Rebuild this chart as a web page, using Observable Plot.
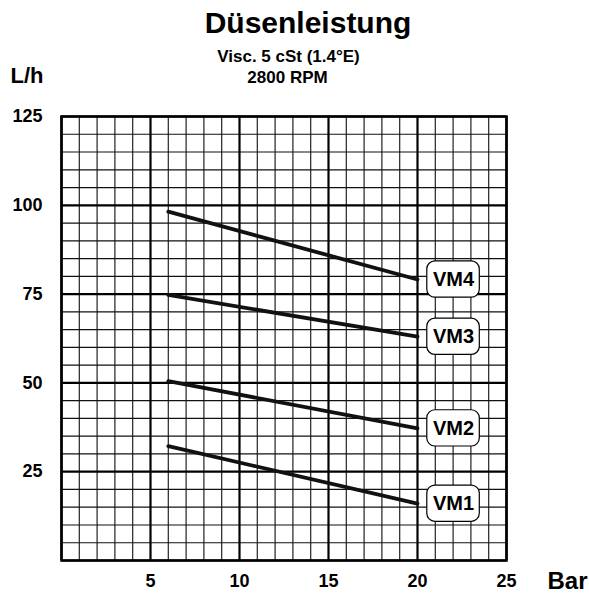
<!DOCTYPE html>
<html>
<head>
<meta charset="utf-8">
<script src="https://cdn.jsdelivr.net/npm/d3@7"></script>
<script src="https://cdn.jsdelivr.net/npm/@observablehq/plot@0.6"></script>
<style>
  html, body { margin: 0; padding: 0; background: #fff; }
  #chart svg { display: block; font-family: "Liberation Sans", Arial, sans-serif; }
</style>
</head>
<body>
<div id="chart"></div>
<script>
// ---- data ----
const series = ["VM1", "VM2", "VM3", "VM4"];
const pressureStart = 6;   // Bar
const pressureEnd = 20;    // Bar
const flowStart = [32.2, 50.5, 74.8, 98.2]; // L/h at 6 bar
const flowEnd = [16.0, 37.2, 63.0, 79.1];   // L/h at 20 bar
const xTicks = [5, 10, 15, 20, 25];
const yTicks = [25, 50, 75, 100, 125];
const title = "Düsenleistung";
const subtitle1 = "Visc. 5 cSt (1.4°E)";
const subtitle2 = "2800 RPM";
const yLabel = "L/h";
const xLabel = "Bar";

// ---- derived tables ----
const lines = series.flatMap((s, i) => [
  {series: s, x: pressureStart, y: flowStart[i]},
  {series: s, x: pressureEnd, y: flowEnd[i]}
]);
const labels = series.map((s, i) => ({series: s, y: flowEnd[i]}));

const xMinor = d3.range(0, 26, 1).filter(v => v % 5 !== 0);
const xMajor = d3.range(0, 26, 5);
const yMinor = d3.range(0, 126, 5).filter(v => v % 25 !== 0);
const yMajor = d3.range(0, 126, 25);

const font = "Liberation Sans, Arial, sans-serif";
const txt = {fontWeight: "bold", fill: "#000", lineAnchor: "middle"};

const chart = Plot.plot({
  width: 589,
  height: 596,
  marginLeft: 61,
  marginRight: 83,
  marginTop: 116,
  marginBottom: 36,
  style: {fontFamily: font, background: "#fff", overflow: "visible"},
  x: {domain: [0, 25]},
  y: {domain: [0, 125]},
  marks: [
    Plot.ruleX(xMinor, {stroke: "#222", strokeWidth: 1.2}),
    Plot.ruleY(yMinor, {stroke: "#111", strokeWidth: 1.2}),
    Plot.ruleX(xMajor, {stroke: "#000", strokeWidth: 2.2}),
    Plot.ruleY(yMajor, {stroke: "#000", strokeWidth: 2.2}),
    Plot.frame({stroke: "#000", strokeWidth: 2.5}),
    Plot.axisX({ticks: xTicks, tickSize: 0, tickPadding: 14, fontSize: 18, fontWeight: "bold", label: null, fill: "#000"}),
    Plot.axisY({ticks: yTicks, tickSize: 0, tickPadding: 19, fontSize: 18, fontWeight: "bold", label: null, fill: "#000"}),
    Plot.line(lines, {x: "x", y: "y", z: "series", stroke: "#111", strokeWidth: 3.8}),
    Plot.rect(labels, {
      x1: () => 20.55, x2: () => 23.5,
      y1: d => d.y - 5.1, y2: d => d.y + 5.1,
      fill: "#fff", stroke: "#000", strokeWidth: 1.2, rx: 8
    }),
    Plot.text(labels, {x: () => 22.02, y: "y", text: "series", fontSize: 20, ...txt}),
    Plot.text([title], {frameAnchor: "top", dx: 24, dy: -93, fontSize: 30, ...txt}),
    Plot.text([subtitle1], {frameAnchor: "top", dx: 4.5, dy: -60, fontSize: 17, ...txt}),
    Plot.text([subtitle2], {frameAnchor: "top", dx: 3.5, dy: -39, fontSize: 17, ...txt}),
    Plot.text([yLabel], {frameAnchor: "top-left", dx: -34.5, dy: -41, fontSize: 22, textAnchor: "middle", ...txt}),
    Plot.text([xLabel], {frameAnchor: "bottom-right", dx: 61, dy: 21, fontSize: 24, textAnchor: "middle", ...txt})
  ]
});
document.getElementById("chart").appendChild(chart);
</script>
</body>
</html>
